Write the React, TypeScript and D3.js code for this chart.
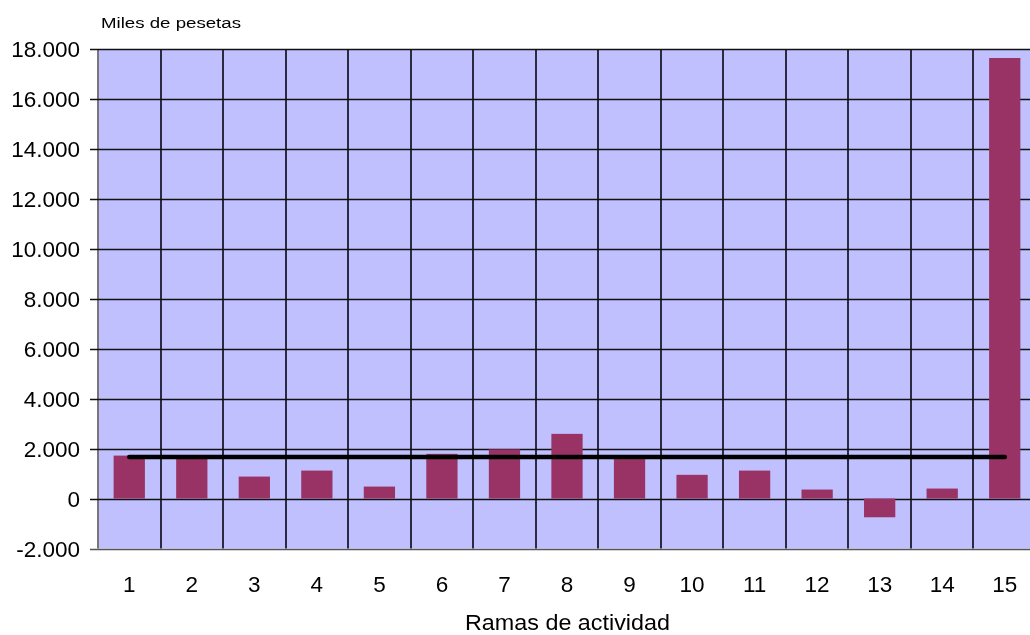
import React, { useRef, useEffect } from "react";
import * as d3 from "d3";

// ramas de actividad (1..15)
const ramas = ["1", "2", "3", "4", "5", "6", "7", "8", "9", "10", "11", "12", "13", "14", "15"];
// miles de pesetas por rama
const valores = [1720, 1650, 880, 1120, 480, 1790, 1970, 2590, 1580, 950, 1120, 360, -750, 400, 17640];
// línea de referencia (media)
const media = [1660, 1660, 1660, 1660, 1660, 1660, 1660, 1660, 1660, 1660, 1660, 1660, 1660, 1660, 1660];
const yTicks = [-2000, 0, 2000, 4000, 6000, 8000, 10000, 12000, 14000, 16000, 18000];

const fmt = (v: number) => d3.format(",")(v).replace(/,/g, ".").replace("\u2212", "-");

const App = () => {
  const node: any = useRef();

  useEffect(() => {
    const width = 1030,
      height = 635;
    const left = 98,
      right = 1036,
      top = 49,
      bottom = 548.5;

    const svg = d3.select(node.current).attr("width", width).attr("height", height);
    svg.selectAll("*").remove();

    const x = d3.scaleBand<string>().domain(ramas).range([left, right]).padding(0);
    const y = d3.scaleLinear().domain([-2000, 18000]).range([bottom, top]);

    // plot background
    svg
      .append("rect")
      .attr("x", left)
      .attr("y", top)
      .attr("width", right - left)
      .attr("height", bottom - top)
      .attr("fill", "#c0c0ff");

    // vertical gridlines at category boundaries
    svg
      .append("g")
      .selectAll("line")
      .data(ramas)
      .enter()
      .append("line")
      .attr("x1", d => Math.round(x(d)!))
      .attr("x2", d => Math.round(x(d)!))
      .attr("y1", top)
      .attr("y2", bottom)
      .attr("stroke", (_, i) => (i === 0 ? "#777" : "#2a2a40"))
      .attr("stroke-width", 2);

    // horizontal gridlines
    svg
      .append("g")
      .selectAll("line")
      .data(yTicks)
      .enter()
      .append("line")
      .attr("x1", left - 8)
      .attr("x2", right)
      .attr("y1", d => Math.round(y(d)) + 0.5)
      .attr("y2", d => Math.round(y(d)) + 0.5)
      .attr("stroke", d => (d === -2000 ? "#555" : "#111"))
      .attr("stroke-width", 1.4);

    // bars
    const bw = x.bandwidth() * 0.5;
    svg
      .append("g")
      .selectAll("rect")
      .data(valores)
      .enter()
      .append("rect")
      .attr("x", (_, i) => x(ramas[i])! + (x.bandwidth() - bw) / 2)
      .attr("width", bw)
      .attr("y", d => y(Math.max(0, d)))
      .attr("height", d => Math.abs(y(d) - y(0)))
      .attr("fill", "#993366");

    // reference line
    const line = d3
      .line<number>()
      .x((_, i) => x(ramas[i])! + x.bandwidth() / 2)
      .y(d => y(d));
    svg
      .append("path")
      .datum(media)
      .attr("d", line)
      .attr("fill", "none")
      .attr("stroke", "#000")
      .attr("stroke-width", 4.5)
      .attr("stroke-linecap", "round");

    // y tick labels
    svg
      .append("g")
      .selectAll("text")
      .data(yTicks)
      .enter()
      .append("text")
      .attr("x", 80)
      .attr("y", d => y(d) + 8)
      .attr("text-anchor", "end")
      .attr("font-size", "22.5px")
      .attr("fill", "#000")
      .text(d => fmt(d));

    // x tick labels
    svg
      .append("g")
      .selectAll("text")
      .data(ramas)
      .enter()
      .append("text")
      .attr("x", d => x(d)! + x.bandwidth() / 2)
      .attr("y", 592)
      .attr("text-anchor", "middle")
      .attr("font-size", "22.5px")
      .attr("fill", "#000")
      .text(d => d);

    // axis titles
    svg
      .append("text")
      .attr("x", 101)
      .attr("y", 27.5)
      .attr("font-size", "15.5px")
      .attr("textLength", 140)
      .attr("lengthAdjust", "spacingAndGlyphs")
      .text("Miles de pesetas");

    svg
      .append("text")
      .attr("x", 465)
      .attr("y", 630)
      .attr("font-size", "22px")
      .attr("textLength", 205)
      .attr("lengthAdjust", "spacingAndGlyphs")
      .text("Ramas de actividad");
  }, []);

  return (
    <div style={{ position: "fixed", left: 0, top: 0, fontFamily: "'Liberation Sans', Arial, sans-serif" }}>
      <svg ref={node} style={{ display: "block", fontFamily: "'Liberation Sans', Arial, sans-serif" }}></svg>
    </div>
  );
};

export default App;
